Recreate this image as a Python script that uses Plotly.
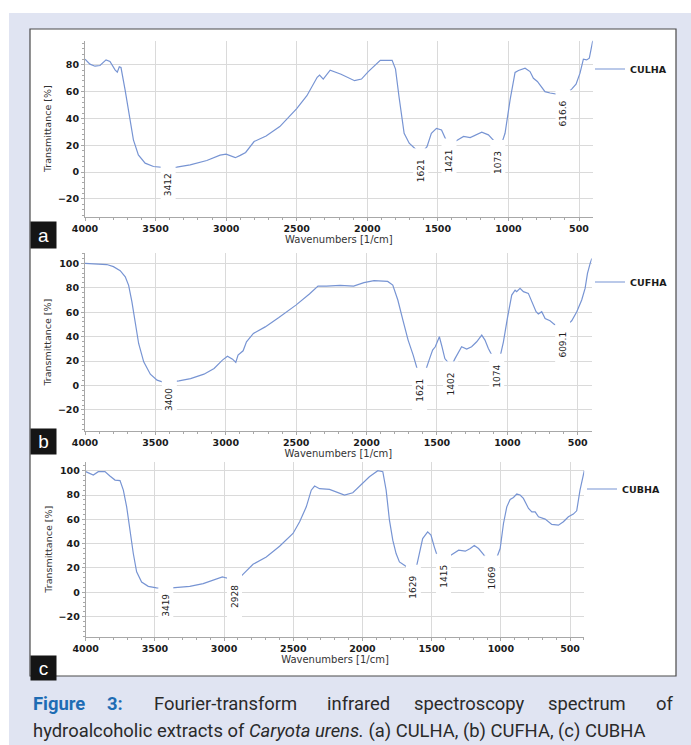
import numpy as np
import plotly.graph_objects as go

W, H = 691, 745

# ---------------- data ----------------
wn_a = [4000, 3965, 3929, 3894, 3851, 3823, 3787, 3771, 3757, 3745, 3716, 3681, 3657, 3622, 3574, 3515, 3468,
        3412, 3350, 3255, 3137, 3043, 3000, 2948, 2935, 2900, 2862, 2802, 2717, 2620, 2500, 2428, 2355, 2338,
        2312, 2263, 2186, 2090, 2041, 1993, 1908, 1824, 1800, 1775, 1739, 1703, 1643, 1621, 1577, 1546, 1510,
        1474, 1437, 1421, 1366, 1318, 1271, 1189, 1142, 1094, 1073, 1047, 1024, 988, 953, 929, 882, 847, 823,
        795, 771, 741, 705, 670, 616.6, 587, 552, 521, 493, 469, 446, 427, 403, 395]
t_a = [84.2, 80.5, 79.0, 79.5, 83.7, 82.5, 76.3, 74.5, 78.5, 78.0, 61.4, 39.0, 24.1, 12.9, 6.7, 4.2, 3.5,
       3.2, 3.7, 5.5, 8.7, 12.7, 13.4, 11.2, 10.8, 12.5, 14.7, 22.8, 27.0, 34.0, 47.4, 57.0, 70.7, 72.4,
       69.4, 76.0, 73.0, 68.2, 69.4, 75.0, 83.4, 83.4, 76.8, 56.0, 29.0, 21.6, 15.5, 13.5, 19.0, 29.0, 32.6,
       31.4, 22.8, 21.0, 23.6, 26.6, 25.8, 29.8, 27.8, 22.0, 20.0, 21.6, 29.0, 54.0, 74.3, 75.8, 77.5, 75.0, 70.0,
       67.6, 64.3, 60.0, 59.0, 58.6, 57.5, 59.4, 61.9, 65.6, 73.8, 84.2, 83.7, 85.0, 98.6, 102.0]

wn_b = [4000, 3940, 3845, 3798, 3750, 3714, 3690, 3667, 3643, 3619, 3583, 3536, 3488, 3457, 3400, 3333, 3250,
        3155, 3083, 3024, 2988, 2952, 2929, 2913, 2877, 2853, 2804, 2720, 2623, 2502, 2406, 2345, 2285, 2188,
        2092, 2019, 1947, 1850, 1814, 1778, 1742, 1705, 1669, 1638, 1621, 1580, 1556, 1531, 1512, 1483, 1464,
        1444, 1415, 1402, 1372, 1325, 1289, 1254, 1218, 1182, 1159, 1135, 1104, 1074, 1052, 1028, 1000, 969,
        945, 934, 910, 886, 851, 827, 796, 780, 756, 732, 697, 666, 609.1, 573, 543, 507, 472, 448, 431, 412, 400]
t_b = [100.0, 99.5, 99.0, 97.3, 94.0, 89.0, 82.0, 68.6, 50.8, 34.4, 19.4, 9.3, 4.4, 3.2, 2.8, 3.8, 5.7,
       9.3, 14.0, 20.8, 24.0, 21.6, 18.9, 24.9, 28.4, 35.8, 42.6, 48.0, 55.7, 65.8, 74.9, 81.4, 81.4, 82.0,
       81.4, 84.2, 85.8, 85.2, 82.2, 70.0, 53.6, 37.2, 24.9, 12.6, 10.0, 12.6, 20.8, 29.0, 31.7, 39.9, 31.7,
       22.1, 18.0, 15.0, 22.0, 31.7, 29.8, 31.7, 35.8, 41.3, 37.2, 30.3, 23.5, 21.5, 23.5, 35.8, 54.9, 74.0,
       78.0, 76.8, 79.5, 76.8, 75.4, 68.6, 60.4, 58.5, 60.4, 54.9, 53.0, 50.0, 48.5, 50.0, 53.0, 60.4, 70.0,
       79.5, 91.8, 100.0, 104.0]

wn_c = [4000, 3969, 3945, 3909, 3861, 3825, 3788, 3752, 3728, 3704, 3680, 3656, 3632, 3596, 3548, 3488, 3419,
        3356, 3248, 3151, 3055, 3012, 2983, 2928, 2887, 2851, 2791, 2695, 2599, 2502, 2454, 2406, 2370, 2346,
        2310, 2238, 2178, 2130, 2070, 2010, 1950, 1889, 1853, 1829, 1805, 1781, 1757, 1733, 1697, 1661, 1629,
        1613, 1589, 1565, 1529, 1505, 1481, 1457, 1415, 1373, 1305, 1257, 1221, 1192, 1161, 1125, 1101, 1069,
        1029, 1005, 981, 957, 933, 909, 885, 861, 837, 800, 776, 752, 728, 680, 632, 584, 548, 512, 476, 452,
        428, 397]
t_c = [99.2, 97.3, 96.4, 99.2, 99.2, 95.6, 92.3, 91.8, 84.0, 70.3, 51.0, 31.9, 16.8, 8.5, 4.9, 3.6, 3.3,
       3.8, 4.9, 7.1, 11.3, 12.6, 11.8, 10.5, 12.1, 15.9, 23.0, 29.1, 37.9, 48.4, 58.0, 70.3, 84.0, 87.4,
       85.2, 84.6, 81.9, 79.9, 81.9, 88.2, 95.0, 100.0, 99.2, 84.0, 59.3, 42.9, 31.9, 25.0, 22.3, 19.5, 18.0,
       19.5, 31.9, 44.2, 49.7, 47.0, 37.4, 29.1, 27.5, 29.7, 34.6, 33.8, 36.0, 38.5, 36.0, 30.5, 27.7, 26.0,
       28.6, 36.0, 56.6, 70.3, 76.4, 78.0, 80.8, 80.0, 77.2, 69.0, 66.2, 66.2, 62.1, 60.2, 55.8, 55.2, 58.0,
       62.1, 64.3, 67.0, 84.0, 100.0]

peaks_a = [3412, 1621, 1421, 1073, 616.6]
peak_labels_a = ["3412", "1621", "1421", "1073", "616.6"]
peaks_b = [3400, 1621, 1402, 1074, 609.1]
peak_labels_b = ["3400", "1621", "1402", "1074", "609.1"]
peaks_c = [3419, 2928, 1629, 1415, 1069]
peak_labels_c = ["3419", "2928", "1629", "1415", "1069"]

names = ["CULHA", "CUFHA", "CUBHA"]
panel_letters = ["a", "b", "c"]
y_ticks_a = [-20, 0, 20, 40, 60, 80]
y_ticks_bc = [-20, 0, 20, 40, 60, 80, 100]
x_ticks = [4000, 3500, 3000, 2500, 2000, 1500, 1000, 500]

# ---------------- layout geometry (pixels) ----------------
def px_x(p):
    return p / W

def px_y(p):
    return 1 - p / H

panels = [
    dict(x0=85, x1=592.7, y0=40.7, y1=216.7, xr=[4000, 403], yr=[-33.2, 98.0], ticks=y_ticks_a,
         leg=(590, 69), lab=(221, 245)),
    dict(x0=85, x1=591.7, y0=253.3, y1=431.0, xr=[4000, 401], yr=[-37.2, 108.2], ticks=y_ticks_bc,
         leg=(590, 282), lab=(428, 451)),
    dict(x0=85.7, x1=584.3, y0=461.7, y1=636.7, xr=[4000, 397], yr=[-36.5, 107.4], ticks=y_ticks_bc,
         leg=(582, 489), lab=(655, 677)),
]
series = [(wn_a, t_a, peaks_a, peak_labels_a), (wn_b, t_b, peaks_b, peak_labels_b),
          (wn_c, t_c, peaks_c, peak_labels_c)]

LINE = "#7794d3"
GRID = "#dadada"
AXIS = "#a8a8a8"
FONT = "DejaVu Sans"

fig = go.Figure()
layout = dict(
    width=W, height=H, margin=dict(l=0, r=0, t=0, b=0, pad=0), autosize=False,
    paper_bgcolor="white", plot_bgcolor="white",
    font=dict(family=FONT, size=10, color="#222"),
)
annotations = []
shapes = [
    dict(type="rect", xref="paper", yref="paper", x0=px_x(9), x1=1.0, y0=0.0, y1=px_y(13),
         fillcolor="#e0e4f2", line=dict(width=0), layer="below"),
    dict(type="rect", xref="paper", yref="paper", x0=px_x(30), x1=px_x(676), y0=px_y(676), y1=px_y(29),
         fillcolor="white", line=dict(color="#4a4a4a", width=1.2), layer="below"),
]

for i, (p, (wn, tt, pk, pl)) in enumerate(zip(panels, series)):
    n = "" if i == 0 else str(i + 1)
    leg = "legend" if i == 0 else f"legend{i+1}"
    fig.add_trace(go.Scatter(x=wn, y=tt, mode="lines", name=names[i], line=dict(color=LINE, width=1.2),
                             xaxis=f"x{n}", yaxis=f"y{n}", legend=leg, hoverinfo="skip"))
    layout[f"xaxis{n}"] = dict(
        domain=[px_x(p["x0"]), px_x(p["x1"])], anchor=f"y{n}", range=p["xr"], automargin=False,
        tickvals=x_ticks, showgrid=True, gridcolor=GRID, gridwidth=1, zeroline=False,
        showline=True, linecolor=AXIS, linewidth=1, ticks="outside", ticklen=3, tickcolor=AXIS,
        minor=dict(dtick=100, ticks="outside", ticklen=2, tickcolor=AXIS, showgrid=False),
        tickfont=dict(family=FONT, size=9.5, color="#1a1a1a", weight="bold"),
        title=dict(text="Wavenumbers [1/cm]", font=dict(family=FONT, size=10, color="#333"), standoff=2),
    )
    layout[f"yaxis{n}"] = dict(
        domain=[px_y(p["y1"]), px_y(p["y0"])], anchor=f"x{n}", range=p["yr"], automargin=False,
        tickvals=p["ticks"], showgrid=True, gridcolor=GRID, gridwidth=1, zeroline=False,
        showline=True, linecolor=AXIS, linewidth=1, ticks="outside", ticklen=3, tickcolor=AXIS,
        minor=dict(dtick=4, ticks="outside", ticklen=2, tickcolor=AXIS, showgrid=False),
        tickfont=dict(family=FONT, size=9.5, color="#1a1a1a", weight="bold"),
        title=dict(text="Transmittance [%]", font=dict(family=FONT, size=9.5, color="#333"), standoff=4),
    )
    layout[leg] = dict(x=px_x(p["leg"][0]), y=px_y(p["leg"][1]), xanchor="left", yanchor="middle",
                       bgcolor="rgba(0,0,0,0)",
                       font=dict(family=FONT, size=9.5, color="#1a1a1a", weight="bold"),
                       itemclick=False, itemdoubleclick=False)
    # peak labels, placed just under the curve value at each labelled wavenumber
    wn_asc = np.array(wn[::-1], dtype=float)
    t_asc = np.array(tt[::-1], dtype=float)
    for x, lab in zip(pk, pl):
        yv = float(np.interp(x, wn_asc, t_asc))
        annotations.append(dict(
            x=x, y=yv, xref=f"x{n}", yref=f"y{n}", text="\u00a0\u00a0\u00a0" + lab + "\u00a0\u00a0\u00a0",
            textangle=-90, showarrow=False, xanchor="center", yanchor="top", yshift=6,
            bgcolor="white", borderpad=2, font=dict(family=FONT, size=9, color="#222")))
    # panel letter box
    annotations.append(dict(
        x=px_x(30), y=px_y(p["lab"][0]), xref="paper", yref="paper", xanchor="left", yanchor="top",
        text=panel_letters[i], showarrow=False, width=23, height=p["lab"][1] - p["lab"][0],
        bgcolor="#151515", font=dict(family="Liberation Sans", size=19, color="white"), align="center",
        valign="middle"))

# caption
CAP = "Roboto"
cap_size = 18.4
blue = "#1e6cb4"
cap_y1 = px_y(703)
cap_y2 = px_y(731)
annotations.append(dict(x=px_x(31), y=cap_y1, xref="paper", yref="paper", xanchor="left", yanchor="middle",
                        text="<b>Figure</b>", showarrow=False, font=dict(family=CAP, size=cap_size, color=blue)))
annotations.append(dict(x=px_x(115), y=cap_y1, xref="paper", yref="paper", xanchor="center", yanchor="middle",
                        text="<b>3:</b>", showarrow=False, font=dict(family=CAP, size=cap_size, color=blue)))
cap_words = ["Fourier-transform", "infrared", "spectroscopy", "spectrum"]
cap_centers = [226, 358, 469, 587]
for wd, cx in zip(cap_words, cap_centers):
    annotations.append(dict(x=px_x(cx), y=cap_y1, xref="paper", yref="paper", xanchor="center",
                            yanchor="middle", text=wd, showarrow=False,
                            font=dict(family=CAP, size=cap_size, color="#2a2a2a")))
annotations.append(dict(x=px_x(675), y=cap_y1, xref="paper", yref="paper", xanchor="right", yanchor="middle",
                        text="of", showarrow=False, font=dict(family=CAP, size=cap_size, color="#2a2a2a")))
annotations.append(dict(x=px_x(31), y=cap_y2, xref="paper", yref="paper", xanchor="left", yanchor="middle",
                        text="hydroalcoholic extracts of <i>Caryota urens.</i> (a) CULHA, (b) CUFHA, (c) CUBHA",
                        showarrow=False, font=dict(family=CAP, size=cap_size, color="#2a2a2a")))

layout["annotations"] = annotations
layout["shapes"] = shapes
layout["showlegend"] = True
fig.update_layout(**layout)
fig.write_html("out.html", config={"displayModeBar": False},
               post_script="document.body.style.margin='0';document.body.style.overflow='hidden';")
